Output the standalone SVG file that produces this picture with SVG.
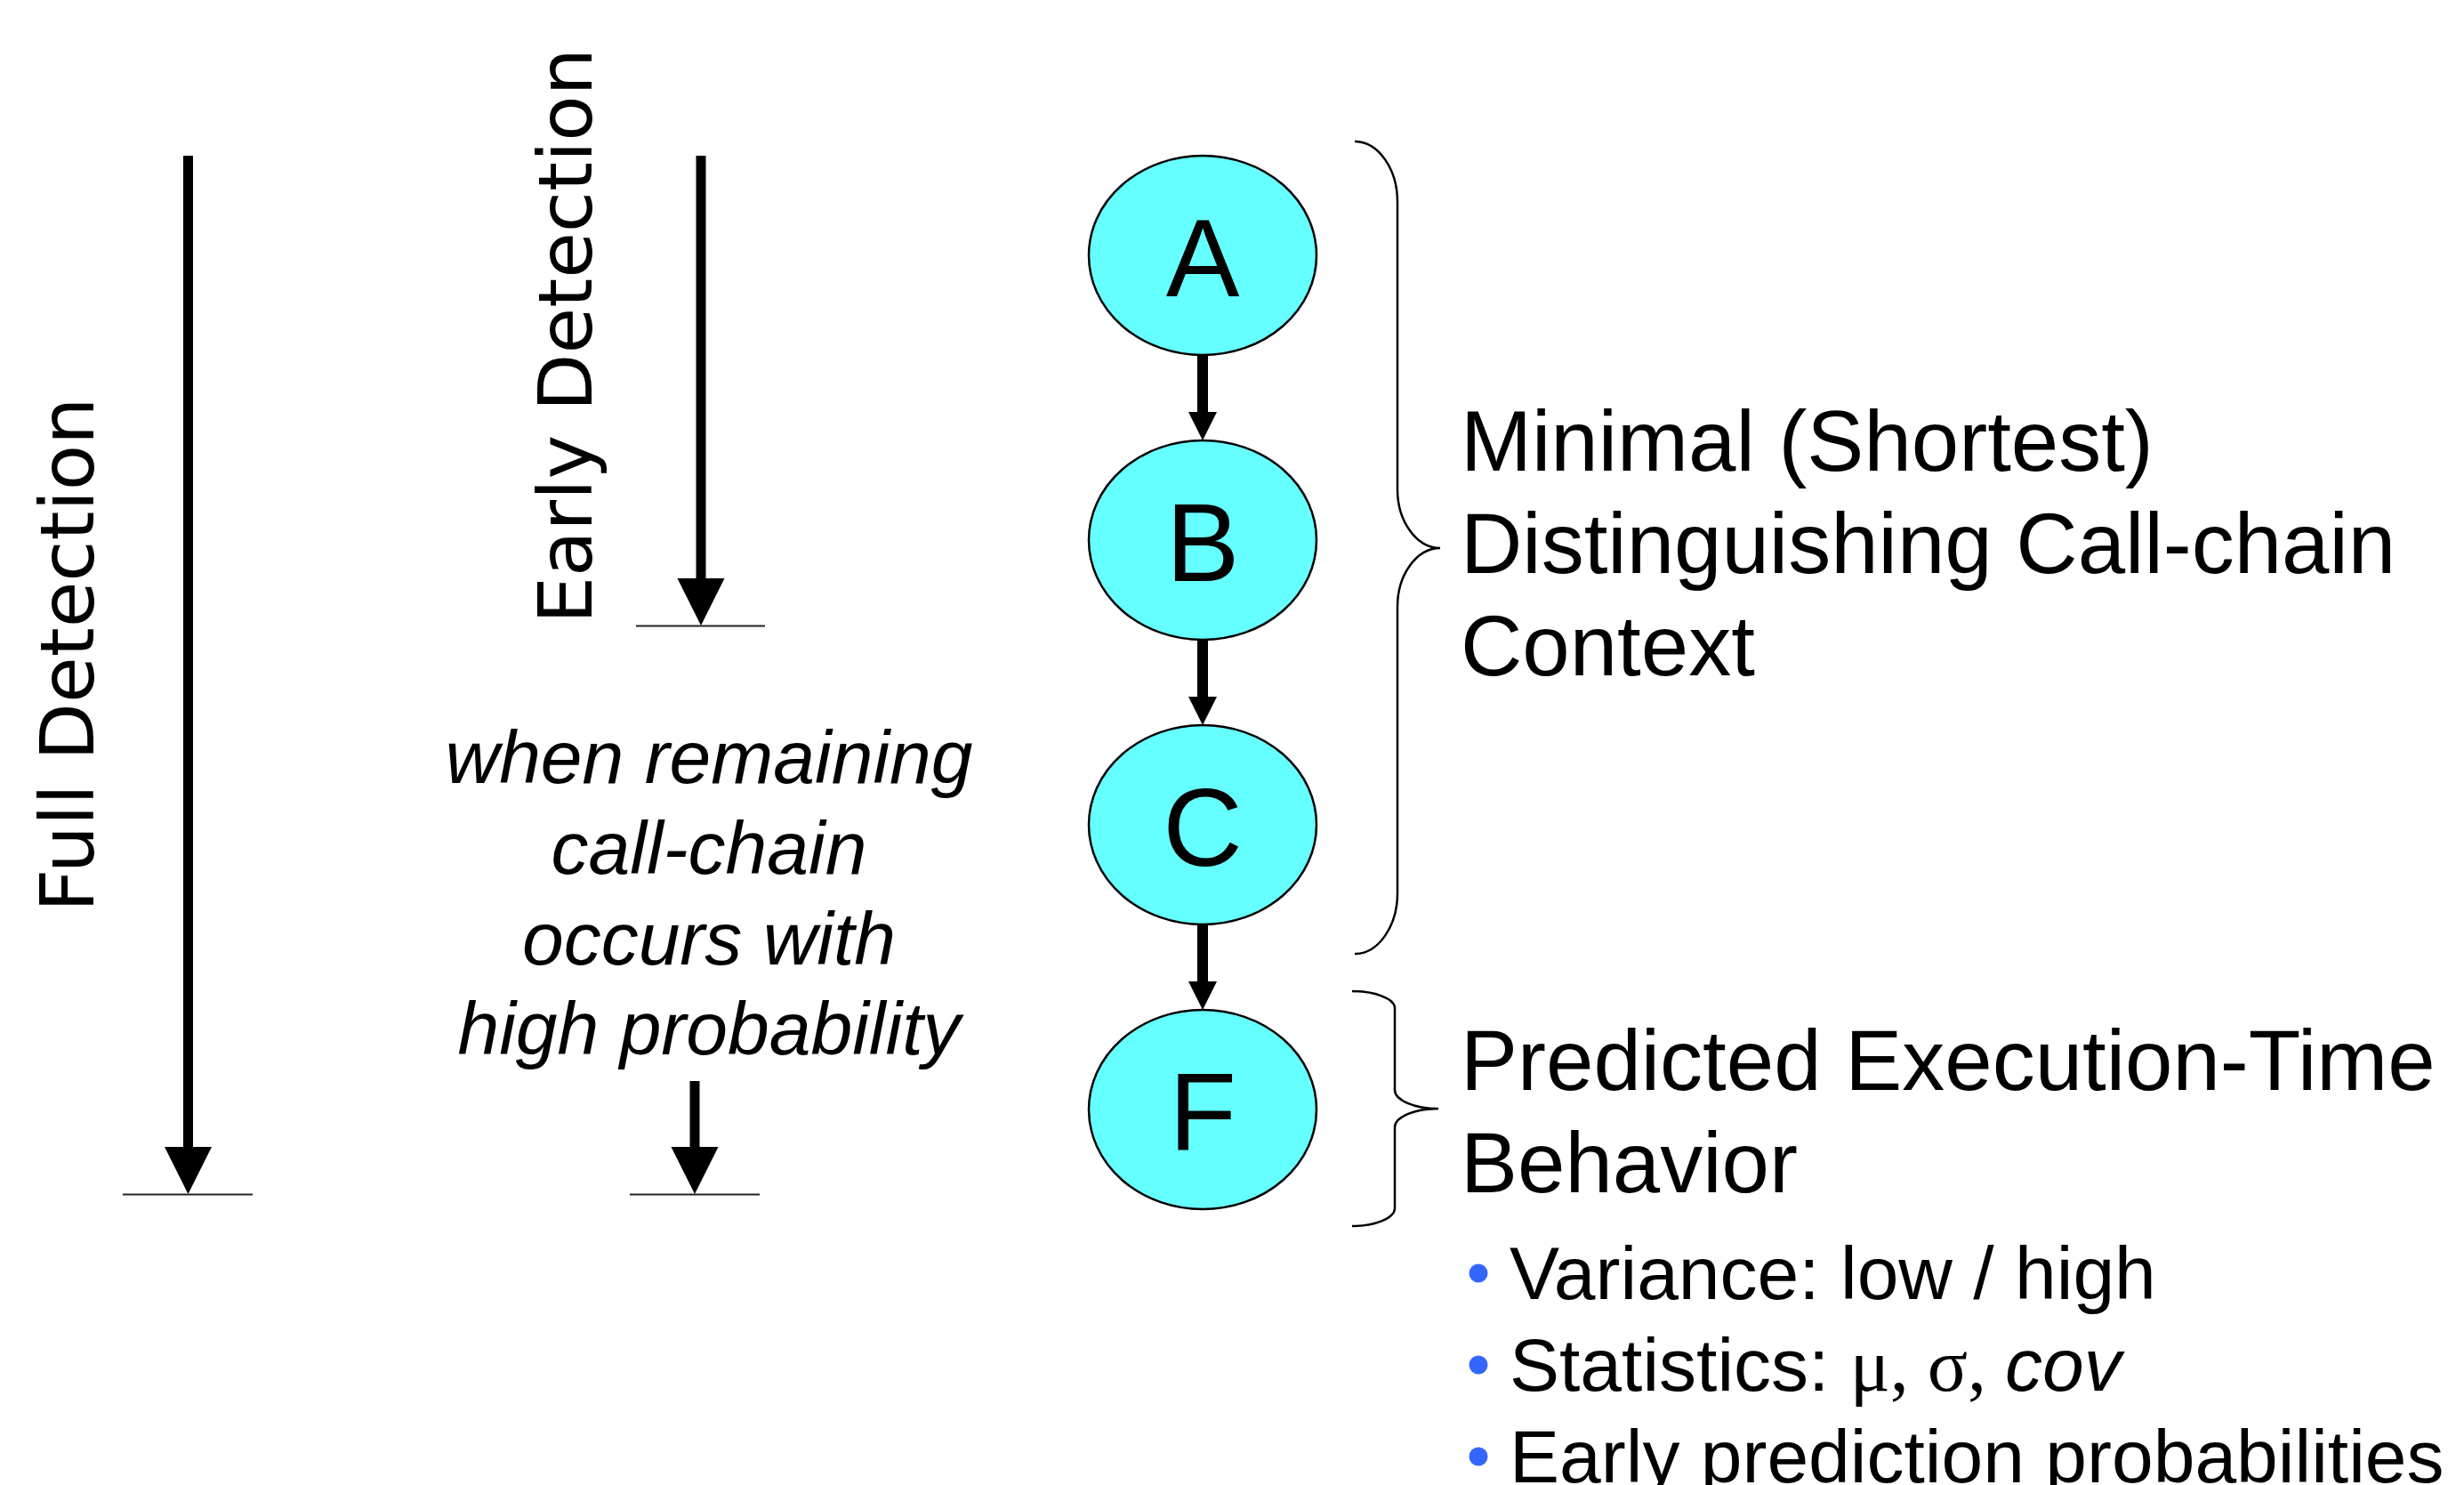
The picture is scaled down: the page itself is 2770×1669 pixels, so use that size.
<svg xmlns="http://www.w3.org/2000/svg" width="2770" height="1669" viewBox="0 0 2770 1669">
  <style>
    .node ellipse { fill: #66FFFF; stroke: #000; stroke-width: 2.5; }
    .node text { font-family: "Liberation Sans", Arial, sans-serif; font-size: 124px; fill: #000; text-anchor: middle; }
    .bigline { stroke: #000; stroke-width: 11; fill: none; }
    .nodeline { stroke: #000; stroke-width: 12; fill: none; }
    .base { stroke: #222; stroke-width: 2; fill: none; }
    .brace { stroke: #000; stroke-width: 2.5; fill: none; }
    .vert { font-family: "DejaVu Sans", Verdana, sans-serif; font-size: 84px; fill: #000; }
    .ital { font-family: "Liberation Sans", Arial, sans-serif; font-size: 84px; font-style: italic; fill: #000; text-anchor: middle; }
    .head { font-family: "Liberation Sans", Arial, sans-serif; font-size: 96px; fill: #000; }
    .bul { font-family: "Liberation Sans", Arial, sans-serif; font-size: 84px; fill: #000; }
    .serif { font-family: "Liberation Serif", "Times New Roman", serif; }
    .dot { fill: #3366FF; }
  </style>
  <defs>
    <marker id="bighead" markerUnits="userSpaceOnUse" markerWidth="54" markerHeight="54" refX="1" refY="26.5" orient="auto">
      <path d="M0,0 L53,26.5 L0,53 Z" fill="#000"/>
    </marker>
    <marker id="nodehead" markerUnits="userSpaceOnUse" markerWidth="34" markerHeight="34" refX="1" refY="16" orient="auto">
      <path d="M0,0 L32,16 L0,32 Z" fill="#000"/>
    </marker>
  </defs>

  <!-- left side labels and detection arrows -->
  <g id="full-detection">
    <text class="vert" transform="translate(105,1025) rotate(-90)">Full Detection</text>
    <line class="bigline" x1="211.5" y1="175" x2="211.5" y2="1290" marker-end="url(#bighead)"/>
    <line class="base" x1="138" y1="1342.5" x2="284" y2="1342.5"/>
  </g>
  <g id="early-detection">
    <text class="vert" transform="translate(665,701) rotate(-90)">Early Detection</text>
    <line class="bigline" x1="788" y1="175" x2="788" y2="651" marker-end="url(#bighead)"/>
    <line class="base" x1="715" y1="703.5" x2="860" y2="703.5"/>
  </g>
  <g id="condition">
    <text class="ital" x="797" y="880">when remaining</text>
    <text class="ital" x="797" y="982">call-chain</text>
    <text class="ital" x="797" y="1084">occurs with</text>
    <text class="ital" x="797" y="1185">high probability</text>
    <line class="bigline" x1="781" y1="1215" x2="781" y2="1290" marker-end="url(#bighead)"/>
    <line class="base" x1="708" y1="1342.5" x2="854" y2="1342.5"/>
  </g>

  <!-- nodes -->
  <g id="node-A" class="node">
    <ellipse cx="1352" cy="287" rx="128" ry="112"/>
    <text x="1352" y="333">A</text>
  </g>
  <g id="node-B" class="node">
    <ellipse cx="1352" cy="607" rx="128" ry="112"/>
    <text x="1352" y="653">B</text>
  </g>
  <g id="node-C" class="node">
    <ellipse cx="1352" cy="927" rx="128" ry="112"/>
    <text x="1352" y="973">C</text>
  </g>
  <g id="node-F" class="node">
    <ellipse cx="1352" cy="1247" rx="128" ry="112"/>
    <text x="1352" y="1293">F</text>
  </g>

  <!-- connectors -->
  <g id="connectors">
    <line class="nodeline" x1="1352" y1="399" x2="1352" y2="464" marker-end="url(#nodehead)"/>
    <line class="nodeline" x1="1352" y1="719" x2="1352" y2="784" marker-end="url(#nodehead)"/>
    <line class="nodeline" x1="1352" y1="1039" x2="1352" y2="1104" marker-end="url(#nodehead)"/>
  </g>

  <!-- braces -->
  <g id="brace-context">
    <path class="brace" d="M1523,159 C1549.5,159 1571,190 1571,227 L1571,550 C1571,586 1592.5,616 1619,616 C1592.5,616 1571,646 1571,682 L1571,1004 C1571,1041 1549.5,1072 1523,1072"/>
  </g>
  <g id="brace-behavior">
    <path class="brace" d="M1520,1114 C1546,1114 1568,1122.5 1568,1133 L1568,1225 C1568,1236.5 1590,1246 1617,1246 C1590,1246 1568,1255.5 1568,1267 L1568,1358 C1568,1369 1546,1378 1520,1378"/>
  </g>

  <!-- right texts -->
  <g id="label-context">
    <text class="head" x="1642" y="529">Minimal (Shortest)</text>
    <text class="head" x="1642" y="644">Distinguishing Call-chain</text>
    <text class="head" x="1642" y="759">Context</text>
  </g>
  <g id="label-behavior">
    <text class="head" x="1642" y="1225">Predicted Execution-Time</text>
    <text class="head" x="1642" y="1340">Behavior</text>
    <circle class="dot" cx="1662" cy="1431" r="10.5"/>
    <text class="bul" x="1697" y="1460">Variance: low / high</text>
    <circle class="dot" cx="1662" cy="1534" r="10.5"/>
    <text class="bul" x="1697" y="1563">Statistics: <tspan class="serif">μ, σ, </tspan><tspan font-style="italic">cov</tspan></text>
    <circle class="dot" cx="1662" cy="1637" r="10.5"/>
    <text class="bul" x="1697" y="1666">Early prediction probabilities</text>
  </g>
</svg>
